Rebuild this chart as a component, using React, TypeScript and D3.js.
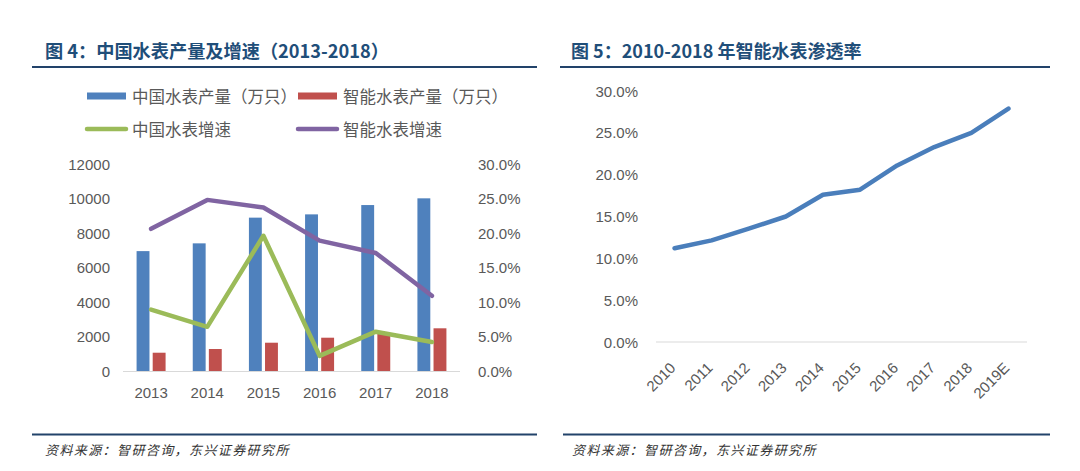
import React from "react";
import * as d3 from "d3";

const years4 = ["2013", "2014", "2015", "2016", "2017", "2018"];
const chinaOutput = [6950, 7400, 8890, 9080, 9620, 10010];
const smartOutput = [1060, 1275, 1640, 1930, 2150, 2475];
const chinaGrowth = [0.089, 0.064, 0.196, 0.022, 0.057, 0.042];
const smartGrowth = [0.206, 0.248, 0.237, 0.189, 0.171, 0.109];
const leftTicks = [0, 2000, 4000, 6000, 8000, 10000, 12000];
const rightTicks = [0, 0.05, 0.1, 0.15, 0.2, 0.25, 0.3];

const years5 = ["2010", "2011", "2012", "2013", "2014", "2015", "2016", "2017", "2018", "2019E"];
const penetration = [0.112, 0.1215, 0.1355, 0.15, 0.176, 0.182, 0.211, 0.233, 0.25, 0.279];
const penTicks = [0, 0.05, 0.1, 0.15, 0.2, 0.25, 0.3];

const legendItems = [
  { label: "中国水表产量（万只）", color: "#4F81BD", kind: "bar", col: 0, row: 0 },
  { label: "智能水表产量（万只）", color: "#C0504D", kind: "bar", col: 1, row: 0 },
  { label: "中国水表增速", color: "#9BBB59", kind: "line", col: 0, row: 1 },
  { label: "智能水表增速", color: "#8064A2", kind: "line", col: 1, row: 1 },
];

const CJK = "'Noto Sans CJK SC', 'Noto Sans', sans-serif";
const NUM = "'Liberation Sans', Arial, sans-serif";
const TITLE_COLOR = "#1f4e79";
const RULE_COLOR = "#22436a";
const TICK_COLOR = "#595959";

export default function App() {
  // Left chart scales
  const x4 = d3.scaleBand().domain(years4).range([123, 460]);
  const inner = d3.scaleBand().domain(["a", "b"]).range([-14.5, 14.5]).paddingInner(0.2);
  const yL = d3.scaleLinear().domain([0, 12000]).range([371, 164]);
  const yR = d3.scaleLinear().domain([0, 0.3]).range([371, 164]);
  const cx4 = (y: string) => (x4(y) as number) + x4.bandwidth() / 2;
  const pct = d3.format(".1%");

  const lineGen = (vals: number[]) =>
    d3.line<number>().x((_, i) => cx4(years4[i])).y((v) => yR(v))(vals) as string;

  // Right chart scales
  const x5 = d3.scaleBand().domain(years5).range([656, 1027]);
  const cx5 = (y: string) => (x5(y) as number) + x5.bandwidth() / 2;
  const y5 = d3.scaleLinear().domain([0, 0.3]).range([342, 91]);
  const penLine = d3.line<number>().x((_, i) => cx5(years5[i])).y((v) => y5(v))(penetration) as string;

  const legendX = [87, 298];
  const legendY = [96, 129];

  return (
    <svg width={1080} height={471} style={{ position: "absolute", left: 0, top: 0, background: "#fff" }}>
      {/* Titles */}
      <text x={45} y={50} fontFamily={CJK} fontWeight="bold" fontSize={18.2} fill={TITLE_COLOR} dominantBaseline="central">
        图 4：中国水表产量及增速（2013-2018）
      </text>
      <line x1={32} x2={537} y1={67} y2={67} stroke={RULE_COLOR} strokeWidth={2} />
      <text x={571} y={50} fontFamily={CJK} fontWeight="bold" fontSize={18} fill={TITLE_COLOR} dominantBaseline="central">
        图 5：2010-2018 年智能水表渗透率
      </text>
      <line x1={560} x2={1050} y1={67} y2={67} stroke={RULE_COLOR} strokeWidth={2} />

      {/* Legend */}
      {legendItems.map((it, i) => {
        const lx = legendX[it.col];
        const ly = legendY[it.row];
        return (
          <g key={i}>
            {it.kind === "bar" ? (
              <rect x={lx} y={ly - 3.5} width={39} height={7} fill={it.color} />
            ) : (
              <line x1={lx} x2={lx + 39} y1={ly} y2={ly} stroke={it.color} strokeWidth={4.5} strokeLinecap="round" />
            )}
            <text x={lx + 45} y={ly} fontFamily={CJK} fontSize={16.5} fill={TICK_COLOR} dominantBaseline="central">
              {it.label}
            </text>
          </g>
        );
      })}

      {/* Left chart axes */}
      {leftTicks.map((t) => (
        <text key={"l" + t} x={110} y={yL(t)} textAnchor="end" dominantBaseline="central" fontFamily={NUM} fontSize={15} fill={TICK_COLOR}>
          {t}
        </text>
      ))}
      {rightTicks.map((t) => (
        <text key={"r" + t} x={478} y={yR(t)} textAnchor="start" dominantBaseline="central" fontFamily={NUM} fontSize={15} fill={TICK_COLOR}>
          {pct(t)}
        </text>
      ))}
      {years4.map((y) => (
        <text key={"x" + y} x={cx4(y)} y={392} textAnchor="middle" dominantBaseline="central" fontFamily={NUM} fontSize={15} fill={TICK_COLOR}>
          {y}
        </text>
      ))}

      {/* Bars */}
      {years4.map((y, i) => (
        <g key={"b" + y}>
          <rect x={cx4(y) + (inner("a") as number)} y={yL(chinaOutput[i])} width={inner.bandwidth()} height={yL(0) - yL(chinaOutput[i])} fill="#4F81BD" />
          <rect x={cx4(y) + (inner("b") as number)} y={yL(smartOutput[i])} width={inner.bandwidth()} height={yL(0) - yL(smartOutput[i])} fill="#C0504D" />
        </g>
      ))}
      <line x1={123} x2={460} y1={371.5} y2={371.5} stroke="#d9d9d9" strokeWidth={1} />

      {/* Lines */}
      <path d={lineGen(chinaGrowth)} fill="none" stroke="#9BBB59" strokeWidth={4.5} strokeLinejoin="round" strokeLinecap="round" />
      <path d={lineGen(smartGrowth)} fill="none" stroke="#8064A2" strokeWidth={4.5} strokeLinejoin="round" strokeLinecap="round" />

      {/* Right chart */}
      {penTicks.map((t) => (
        <text key={"p" + t} x={638} y={y5(t)} textAnchor="end" dominantBaseline="central" fontFamily={NUM} fontSize={15} fill={TICK_COLOR}>
          {pct(t)}
        </text>
      ))}
      <line x1={656} x2={1027} y1={342} y2={342} stroke="#d9d9d9" strokeWidth={1} />
      {years5.map((y) => (
        <text key={"q" + y} transform={`translate(${cx5(y) - 2},${365}) rotate(-45)`} textAnchor="end" dominantBaseline="central" fontFamily={NUM} fontSize={15} fill={TICK_COLOR}>
          {y}
        </text>
      ))}
      <path d={penLine} fill="none" stroke="#4A7EBB" strokeWidth={4.5} strokeLinejoin="round" strokeLinecap="round" />

      {/* Bottom rules and sources */}
      <line x1={32} x2={537} y1={434.5} y2={434.5} stroke={RULE_COLOR} strokeWidth={2} />
      <line x1={563} x2={1050} y1={434.5} y2={434.5} stroke={RULE_COLOR} strokeWidth={2} />
      <text x={45} y={449} fontFamily={CJK} fontStyle="italic" fontSize={13} letterSpacing={1.4} fill="#333" dominantBaseline="central">
        资料来源：智研咨询，东兴证券研究所
      </text>
      <text x={572} y={449} fontFamily={CJK} fontStyle="italic" fontSize={13} letterSpacing={1.4} fill="#333" dominantBaseline="central">
        资料来源：智研咨询，东兴证券研究所
      </text>
    </svg>
  );
}
